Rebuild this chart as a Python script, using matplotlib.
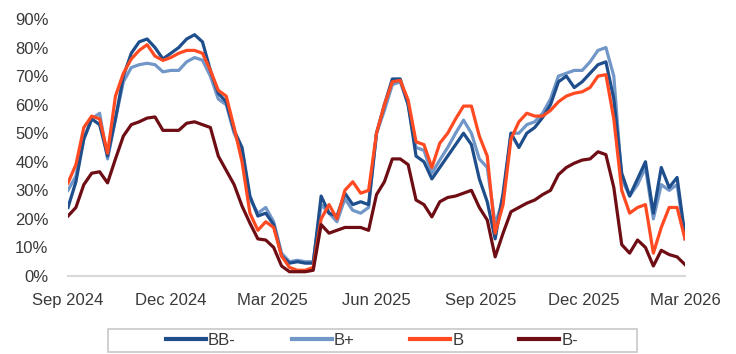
import matplotlib
matplotlib.use("Agg")
import matplotlib.pyplot as plt
import matplotlib.dates as mdates
from matplotlib.patches import Rectangle
from matplotlib.ticker import FuncFormatter
import pandas as pd

plt.rcParams["font.family"] = ["Liberation Sans", "DejaVu Sans"]

# Weekly observations, Sep 2024 - Mar 2026
dates = pd.date_range("2024-09-01", periods=79, freq="7D")

bb_minus = [24, 33, 48, 55, 53, 42, 55, 70, 78, 82, 83, 80, 76, 78, 80, 83, 84.5, 82, 72, 64,
            61, 51, 45, 28, 21, 22, 18, 7, 4.5, 5, 4.5, 4.5, 28, 22, 21, 29, 25, 26, 25, 50,
            60, 69, 69, 60, 42, 40, 34, 38, 42, 46, 50, 46, 34, 26, 13, 29, 50, 45, 50, 52,
            55.5, 60, 68, 70, 66, 68, 71, 74, 75, 62, 36, 28, 34, 40, 22, 38, 31, 34.5, 14]

b_plus = [30, 35, 48, 55, 57, 41, 55, 68, 73, 74, 74.5, 74, 71.5, 72, 72, 75, 76.5, 75.6, 70, 62,
          60, 50, 44, 27, 22, 24, 19, 8, 5, 5.5, 5, 5, 25, 22, 19, 27, 23, 22, 24, 50,
          58, 67, 68, 60, 45, 44, 36, 40.6, 45, 50, 54.6, 50, 41, 38, 18, 27, 50, 50, 53, 54,
          57, 62, 70, 71, 72, 72, 75, 79, 80, 70, 34, 28, 32, 38, 20, 32, 30, 32, 13]

b_mid = [32.6, 39, 52, 56, 55, 43, 63, 71, 76, 79, 81, 77, 75.5, 76.5, 78, 79, 79, 78, 72, 65,
         63, 52, 40, 22, 16, 19, 17, 7, 3, 2, 2, 3, 20, 25, 20, 30, 33, 29, 30, 50,
         60, 68, 68.5, 61.6, 47, 46, 38, 46.5, 50, 55, 59.5, 59.5, 49, 42, 15, 25, 48, 54, 57, 56,
         56, 58, 61, 63, 64, 64.5, 66, 70, 70.5, 55, 30, 22, 24, 25, 8, 17, 24, 24, 13]

b_minus = [21, 24, 32, 36, 36.5, 32.6, 41, 49, 53, 54, 55.3, 55.7, 51, 51, 51, 53.5, 54, 53, 52, 42,
           37, 32, 24.5, 18.5, 13, 12.6, 10, 3.5, 1.5, 1.5, 1.5, 2, 18, 15, 16, 17, 17, 17, 16, 28.5,
           33, 41, 41, 39, 26.6, 25, 20.7, 26, 27.5, 28, 29, 30, 24, 19.6, 6.7, 15, 22.5, 24, 25.5, 26.6,
           28.5, 30, 35.5, 38, 39.5, 40.6, 41, 43.5, 42.5, 31, 11, 8, 12.6, 10, 3.5, 9, 7.5, 6.7, 4]

series_names = ["BB-", "B+", "B", "B-"]
series_values = [bb_minus, b_plus, b_mid, b_minus]
series_colors = ["#1f4e8c", "#7196c8", "#ff4a22", "#6e0d14"]

tick_dates = pd.to_datetime(["2024-09-01", "2024-12-01", "2025-03-01", "2025-06-01",
                             "2025-09-01", "2025-12-01", "2026-03-01"])

fig = plt.figure(figsize=(7.36, 3.54), dpi=100)
ax = fig.add_axes([68 / 736, 1 - 276 / 354, (685 - 68) / 736, (276 - 19) / 354])

draw_order = [1, 0, 2, 3]
for i in draw_order:
    ax.plot(dates, [v / 100 for v in series_values[i]], color=series_colors[i],
            lw=2.3, solid_joinstyle="round", label=series_names[i])

ax.set_xlim(tick_dates[0], tick_dates[-1])
ax.set_ylim(0, 0.9)
ax.set_yticks([i / 10 for i in range(10)])
ax.yaxis.set_major_formatter(FuncFormatter(lambda v, _: f"{v * 100:.0f}%"))
ax.set_xticks(tick_dates)
ax.xaxis.set_major_formatter(mdates.DateFormatter("%b %Y"))

for side in ["top", "right", "left"]:
    ax.spines[side].set_visible(False)
ax.spines["bottom"].set_color("#d9d9d9")
ax.spines["bottom"].set_linewidth(1.5)
ax.tick_params(axis="both", length=0, labelsize=12, colors="#3a3a3a")
ax.tick_params(axis="y", pad=14)
ax.tick_params(axis="x", pad=12)

# Legend below the plot with a wide frame
handles, labels = ax.get_legend_handles_labels()
order = [labels.index(n) for n in series_names]
leg = fig.legend([handles[k] for k in order], [labels[k] for k in order],
                 loc="center", bbox_to_anchor=(372 / 736, 1 - 340.5 / 354), ncol=4,
                 frameon=False, fontsize=12, handlelength=2.4, handletextpad=0.12,
                 columnspacing=3.35, labelcolor="#3a3a3a")
for line in leg.get_lines():
    line.set_linewidth(3)
fig.patches.append(Rectangle((108 / 736, 1 - 352 / 354), (637 - 108) / 736, 23 / 354,
                             transform=fig.transFigure, fill=False,
                             edgecolor="#c8c8c8", linewidth=1.2))

fig.savefig("out.png", dpi=100)
